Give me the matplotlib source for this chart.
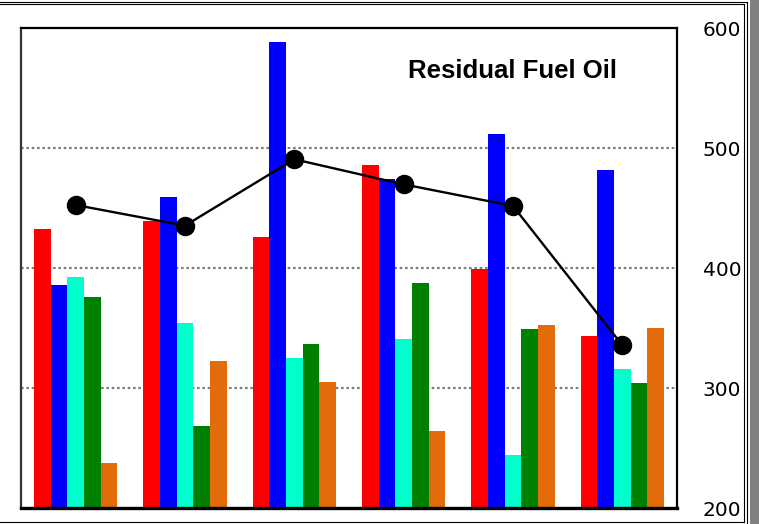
import matplotlib.pyplot as plt
import numpy as np
from matplotlib.patches import Rectangle
from matplotlib.lines import Line2D

title = 'Residual Fuel Oil'
groups = ['G1', 'G2', 'G3', 'G4', 'G5', 'G6']

red = [432.5, 439.4, 425.6, 485.8, 399.4, 343.0]
blue = [385.6, 459.2, 588.3, 474.2, 511.4, 481.4]
cyan = [392.2, 354.2, 325.0, 341.1, 244.2, 316.1]
green = [375.6, 268.1, 336.4, 387.5, 349.2, 304.2]
orange = [237.2, 322.2, 305.3, 263.9, 352.2, 350.3]
line_vals = [452.5, 435.3, 490.6, 469.7, 451.7, 335.6]

yticks = [200, 300, 400, 500, 600]


def plot():
    fig = plt.figure(figsize=(7.59, 5.24), dpi=100)
    ax = fig.add_axes([21 / 759, 16 / 524, 656 / 759, 480 / 524])

    x = np.arange(len(groups))
    w = 0.153
    series = [red, blue, cyan, green, orange]
    colors = ['#ff0000', '#0000ff', '#00ffcc', '#008000', '#e36c0a']
    for j, (vals, c) in enumerate(zip(series, colors)):
        ax.bar(x + (j - 2) * w, vals, width=w, color=c, zorder=2)

    ax.plot(x, line_vals, color='black', lw=1.7, marker='o', markersize=13, zorder=3)

    ax.set_xlim(-0.5, len(groups) - 0.5)
    ax.set_ylim(200, 600)
    ax.set_xticks([])
    ax.yaxis.tick_right()
    ax.set_yticks(yticks)
    ax.tick_params(axis='y', length=0, pad=18.5, labelsize=14.5)
    ax.set_axisbelow(True)
    for v in [300, 400, 500]:
        ax.axhline(v, color='#808080', lw=1.6, ls=(0, (1.2, 1.2)), zorder=1)

    for s in ['top', 'right', 'left']:
        ax.spines[s].set_linewidth(1.6)
        ax.spines[s].set_color('black')
    ax.spines['bottom'].set_linewidth(2.4)
    ax.spines['left'].set_color('#333333')

    ax.text(0.749, 0.91, title, transform=ax.transAxes, ha='center', va='center',
            fontsize=18.5, fontweight='bold', family='Liberation Sans')

    # outer frame
    W, H = 759, 524
    def fl(x0, y0, x1, y1, c='black', lw=1.0):
        fig.add_artist(Line2D([x0 / W, x1 / W], [1 - y0 / H, 1 - y1 / H],
                              transform=fig.transFigure, color=c, lw=lw))
    fl(0, 1.5, 747, 1.5, lw=0.8)
    fl(0, 4, 744, 4, lw=0.8)
    fl(744, 4, 744, 522, lw=0.8)
    fl(747, 1.5, 747, 524, lw=0.8)
    fl(0, 522, 744, 522, lw=0.8)
    fig.add_artist(Rectangle((750 / W, 0), 9 / W, 1, transform=fig.transFigure,
                             color='#808080', lw=0))

    fig.savefig('out.png', dpi=100)


if __name__ == '__main__':
    plot()
